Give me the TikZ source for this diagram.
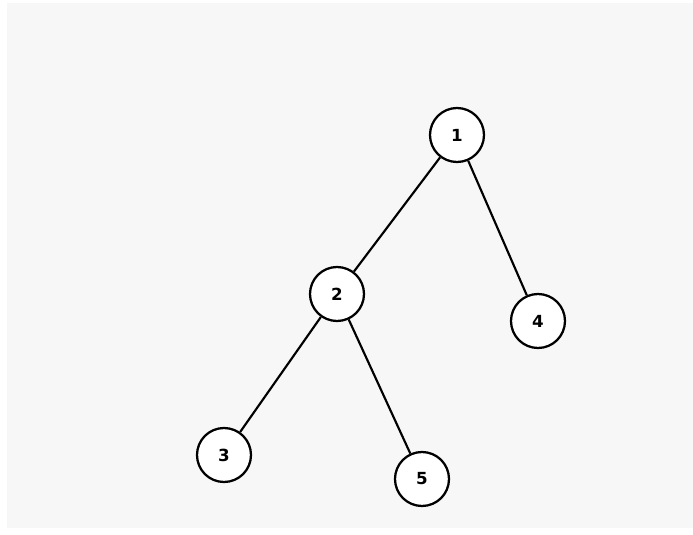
\documentclass[tikz,border=0pt]{standalone}
\usepackage{fontspec}
\setmainfont{DejaVu Sans}
\definecolor{bg}{HTML}{F7F7F7}
\begin{document}
\begin{tikzpicture}[x=0.75pt,y=-0.75pt,
  tnode/.style={circle,draw=black,fill=white,line width=1.7pt,minimum size=40.5pt,inner sep=0pt,font=\bfseries\fontsize{12.5}{12.5}\selectfont},
  edge/.style={line width=1.6pt}]
\useasboundingbox (0,0) rectangle (693,535);
\fill[bg] (7,3) rectangle (693,528);
\node[tnode] (n1) at (457,135) {1};
\node[tnode] (n2) at (337,294) {2};
\node[tnode] (n4) at (538,321) {4};
\node[tnode] (n3) at (224,455) {3};
\node[tnode] (n5) at (422,479) {5};
\draw[edge] (n1) -- (n2);
\draw[edge] (n1) -- (n4);
\draw[edge] (n2) -- (n3);
\draw[edge] (n2) -- (n5);
\end{tikzpicture}
\end{document}
